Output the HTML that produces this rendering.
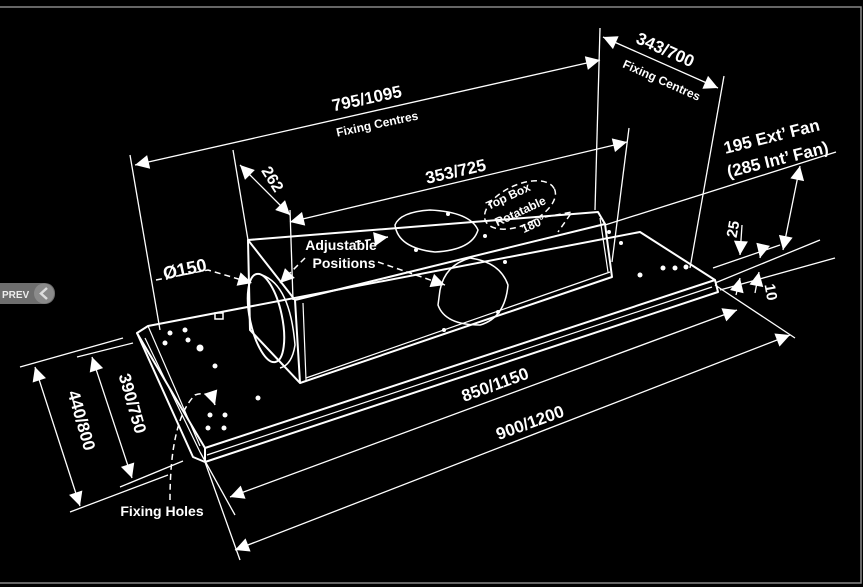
<!DOCTYPE html>
<html><head><meta charset="utf-8"><style>
html,body{margin:0;padding:0;background:#000;width:863px;height:587px;overflow:hidden}
svg{display:block}
text{font-family:"Liberation Sans",Arial,sans-serif;fill:#fff;font-weight:bold}
</style></head><body>
<svg width="863" height="587" viewBox="0 0 863 587" xmlns="http://www.w3.org/2000/svg">
<defs>
<marker id="b" viewBox="0 0 10 10" refX="10" refY="5" markerWidth="16" markerHeight="14" orient="auto-start-reverse" markerUnits="userSpaceOnUse"><path d="M0,0 L10,5 L0,10 z" fill="#fff"/></marker>
</defs>
<rect x="-2" y="7" width="863" height="576" fill="none" stroke="#888" stroke-width="1.5"/>
<g stroke="#fff" fill="none" stroke-width="2" stroke-linejoin="round">
<path d="M137,333 L148,326 L640,232 L715,280 L205,448 Z"/>
<path d="M137,333 L193,457 L205,462 L718,292 L715,280"/>
<path d="M205,448 L205,462"/>
<path d="M148,326 L200,446" stroke-width="1.2"/>
<path d="M145,338 L200,452" stroke-width="1.2"/>
<path d="M207,455 L712,287" stroke-width="1.2"/>
<path d="M248,240 L598,212 L605,224 L295,300 Z"/>
<path d="M295,300 L300,383 L612,277 L605,224"/>
<path d="M248,240 L250,330 L300,383"/>
<path d="M303,303 L306,380" stroke-width="1.2"/>
<path d="M306,378 L610,272" stroke-width="1.2"/>
<path d="M600,218 L608,272" stroke-width="1.2"/>
<path d="M395,225 Q400,212 430,210 Q470,212 478,230 Q472,250 435,252 Q398,248 395,225 Z" stroke-width="1.5"/>
<path d="M440,290 Q445,265 470,258 Q500,262 508,285 Q505,318 480,325 Q445,325 438,305 Z" stroke-width="1.5"/>
<ellipse cx="266" cy="318" rx="16" ry="45" transform="rotate(-12 266 318)"/>
<path d="M262,275 Q290,285 295,345 Q292,365 280,368" stroke-width="1.5"/>
</g>
<g fill="#fff">
<circle cx="170" cy="333" r="2.5"/><circle cx="185" cy="330" r="2.5"/><circle cx="165" cy="343" r="2.5"/><circle cx="188" cy="340" r="2.5"/><circle cx="200" cy="348" r="3.5"/>
<circle cx="215" cy="366" r="2.5"/><circle cx="258" cy="398" r="2.5"/><circle cx="210" cy="415" r="2.5"/><circle cx="225" cy="415" r="2.5"/><circle cx="208" cy="428" r="2.5"/><circle cx="224" cy="428" r="2.5"/>
<circle cx="640" cy="275" r="2.5"/><circle cx="663" cy="268" r="2.5"/><circle cx="675" cy="268" r="2.5"/><circle cx="686" cy="267" r="2.5"/><circle cx="621" cy="243" r="2"/><circle cx="609" cy="232" r="2"/>
<circle cx="505" cy="262" r="2"/><circle cx="498" cy="312" r="2"/><circle cx="444" cy="330" r="2"/><circle cx="416" cy="250" r="2"/><circle cx="448" cy="214" r="2"/><circle cx="485" cy="236" r="2"/>
</g>
<rect x="215" y="313" width="8" height="6" fill="none" stroke="#fff" stroke-width="1.5"/>
<g stroke="#fff" fill="none" stroke-width="1.3">
<path d="M130,155 L160,330"/>
<path d="M600,28 L595,210"/>
<path d="M724,76 L690,268"/>
<path d="M233,150 L248,240"/>
<path d="M290,210 L293,300"/>
<path d="M629,128 L612,262"/>
<path d="M605,225 L836,152"/>
<path d="M715,283 L820,240"/>
<path d="M713,268 L780,245"/>
<path d="M720,290 L835,258"/>
<path d="M715,285 L795,338"/>
<path d="M200,452 L235,515"/>
<path d="M205,462 L240,560"/>
<path d="M20,367 L123,338"/>
<path d="M77,357 L133,343"/>
<path d="M70,512 L168,475"/>
<path d="M120,487 L183,461"/>
<path d="M135,165 L600,60" marker-start="url(#b)" marker-end="url(#b)"/>
<path d="M603,37 L718,88" marker-start="url(#b)" marker-end="url(#b)"/>
<path d="M290,222 L627,142" marker-start="url(#b)" marker-end="url(#b)"/>
<path d="M240,165 L290,215" marker-start="url(#b)" marker-end="url(#b)"/>
<path d="M800,166 L783,250" marker-start="url(#b)" marker-end="url(#b)"/>
<path d="M742,225 L740,255" marker-end="url(#b)"/>
<path d="M763,245 L760,258" marker-end="url(#b)"/>
<path d="M736,295 L740,278" marker-end="url(#b)"/>
<path d="M755,293 L759,272" marker-end="url(#b)"/>
<path d="M230,497 L737,310" marker-start="url(#b)" marker-end="url(#b)"/>
<path d="M235,550 L790,335" marker-start="url(#b)" marker-end="url(#b)"/>
<path d="M35,367 L80,506" marker-start="url(#b)" marker-end="url(#b)"/>
<path d="M92,357 L132,478" marker-start="url(#b)" marker-end="url(#b)"/>
</g>
<g stroke="#fff" fill="none" stroke-width="1.5" stroke-dasharray="6,4">
<path d="M156,280 L208,270 L252,283" marker-end="url(#b)"/>
<path d="M305,258 L280,283" marker-end="url(#b)"/>
<path d="M355,242 L388,237" marker-end="url(#b)"/>
<path d="M378,262 L445,285" marker-end="url(#b)"/>
<path d="M170,500 Q170,420 195,395 Q210,390 215,405" marker-end="url(#b)"/>
<ellipse cx="520" cy="205" rx="38" ry="20" transform="rotate(-25 520 205)"/>
<path d="M545,217 L572,212 L558,232"/>
</g>
<text x="368" y="104" font-size="17" text-anchor="middle" transform="rotate(-12 368 104)">795/1095</text>
<text x="378" y="128" font-size="12" text-anchor="middle" transform="rotate(-12 378 128)">Fixing Centres</text>
<text x="663" y="55" font-size="17" text-anchor="middle" transform="rotate(24 663 55)">343/700</text>
<text x="660" y="84" font-size="12" text-anchor="middle" transform="rotate(24 660 84)">Fixing Centres</text>
<text x="457" y="177" font-size="17" text-anchor="middle" transform="rotate(-13 457 177)">353/725</text>
<text x="268" y="182" font-size="16" text-anchor="middle" transform="rotate(58 268 182)">262</text>
<text x="773" y="142" font-size="17" text-anchor="middle" transform="rotate(-14 773 142)">195 Ext’ Fan</text>
<text x="779" y="165" font-size="17" text-anchor="middle" transform="rotate(-14 779 165)">(285 Int’ Fan)</text>
<text x="738" y="230" font-size="15" text-anchor="middle" transform="rotate(-80 738 230)">25</text>
<text x="766" y="293" font-size="15" text-anchor="middle" transform="rotate(80 766 293)">10</text>
<text x="186" y="275" font-size="18" text-anchor="middle" transform="rotate(-12 186 275)">Ø150</text>
<text x="341" y="250" font-size="14" text-anchor="middle">Adjustable</text>
<text x="344" y="268" font-size="14" text-anchor="middle">Positions</text>
<text x="510" y="200" font-size="12" text-anchor="middle" transform="rotate(-25 510 200)">Top Box</text>
<text x="522" y="215" font-size="12" text-anchor="middle" transform="rotate(-25 522 215)">Rotatable</text>
<text x="535" y="228" font-size="12" text-anchor="middle" transform="rotate(-25 535 228)">180°</text>
<text x="497" y="390" font-size="17" text-anchor="middle" transform="rotate(-20 497 390)">850/1150</text>
<text x="532" y="428" font-size="17" text-anchor="middle" transform="rotate(-20 532 428)">900/1200</text>
<text x="76" y="422" font-size="17" text-anchor="middle" transform="rotate(74 76 422)">440/800</text>
<text x="127" y="405" font-size="17" text-anchor="middle" transform="rotate(74 127 405)">390/750</text>
<text x="162" y="516" font-size="14" text-anchor="middle">Fixing Holes</text>
<rect x="-10" y="283" width="65" height="21" rx="10" fill="#6e6e6e"/>
<circle cx="44" cy="293.5" r="10" fill="#8a8a8a"/>
<path d="M47,288 L41,293.5 L47,299" stroke="#ddd" stroke-width="2.5" fill="none"/>
<text x="2" y="298" font-size="10" style="fill:#eee">PREV</text>
</svg>
</body></html>
